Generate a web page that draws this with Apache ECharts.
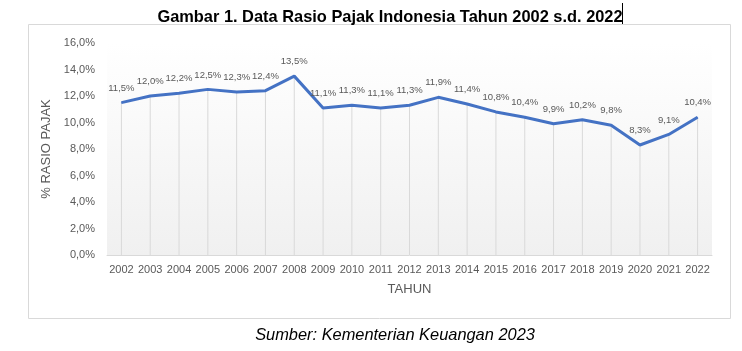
<!DOCTYPE html>
<html>
<head>
<meta charset="utf-8">
<script src="https://cdn.jsdelivr.net/npm/echarts@6/dist/echarts.min.js"></script>
<style>
  html, body { margin: 0; padding: 0; background: #fff; }
  #chart { width: 742px; height: 351px; }
</style>
</head>
<body>
<div id="chart"></div>
<script>
const years = ['2002', '2003', '2004', '2005', '2006', '2007', '2008', '2009', '2010', '2011', '2012',
  '2013', '2014', '2015', '2016', '2017', '2018', '2019', '2020', '2021', '2022'];
const taxRatio = [11.5, 12.0, 12.2, 12.5, 12.3, 12.4, 13.5, 11.1, 11.3, 11.1, 11.3,
  11.9, 11.4, 10.8, 10.4, 9.9, 10.2, 9.8, 8.3, 9.1, 10.4];

const fmt = v => v.toFixed(1).replace('.', ',') + '%';
const font = "'Liberation Sans', Arial, sans-serif";

const chart = echarts.init(document.getElementById('chart'));
chart.setOption({
  animation: false,
  textStyle: { fontFamily: font },
  title: [
    { text: 'Gambar 1. Data Rasio Pajak Indonesia Tahun 2002 s.d. 2022', left: 385, top: 4, textAlign: 'center',
      textStyle: { fontSize: 16.4, fontWeight: 'bold', color: '#000', fontFamily: font } },
    { text: 'Sumber: Kementerian Keuangan 2023', left: 390, top: 322, textAlign: 'center',
      textStyle: { fontSize: 16.4, fontStyle: 'italic', fontWeight: 'normal', color: '#000', fontFamily: font } }
  ],
  graphic: [
    { type: 'rect', shape: { x: 28.5, y: 24.5, width: 702, height: 294 }, style: { fill: 'none', stroke: '#d9d9d9', lineWidth: 1 }, z: -10 },
    { type: 'line', shape: { x1: 622.5, y1: 3, x2: 622.5, y2: 24 }, style: { stroke: '#000', lineWidth: 1 } }
  ],
  grid: {
    left: 107, right: 30, top: 43, bottom: 96, show: true, borderWidth: 0,
    backgroundColor: new echarts.graphic.LinearGradient(0, 0, 0, 1, [
      { offset: 0, color: '#ffffff' }, { offset: 1, color: '#f0f0f0' }
    ])
  },
  xAxis: {
    type: 'category', data: years, boundaryGap: true,
    name: 'TAHUN', nameLocation: 'middle', nameGap: 28,
    nameTextStyle: { color: '#595959', fontSize: 13 },
    axisLine: { lineStyle: { color: '#d9d9d9' } },
    axisTick: { show: false },
    axisLabel: { color: '#595959', fontSize: 11, margin: 9, interval: 0 },
    splitLine: { show: false }
  },
  yAxis: {
    type: 'value', min: 0, max: 16, interval: 2,
    name: '% RASIO PAJAK', nameLocation: 'middle', nameGap: 45, nameRotate: 90,
    nameTextStyle: { color: '#595959', fontSize: 13 },
    axisLine: { show: false }, axisTick: { show: false },
    axisLabel: { color: '#595959', fontSize: 11, margin: 12, formatter: fmt },
    splitLine: { show: false }
  },
  series: [
    {
      type: 'bar', data: taxRatio, barWidth: 1, silent: true,
      itemStyle: { color: '#d9d9d9' }, z: 1
    },
    {
      type: 'line', data: taxRatio, symbol: 'circle', symbolSize: 1, showSymbol: true, silent: true,
      itemStyle: { color: '#4472c4' },
      lineStyle: { color: '#4472c4', width: 3 }, z: 3,
      label: { show: true, position: 'top', distance: 9, color: '#595959', fontSize: 9.5, formatter: p => fmt(p.value) }
    }
  ]
});
</script>
</body>
</html>
